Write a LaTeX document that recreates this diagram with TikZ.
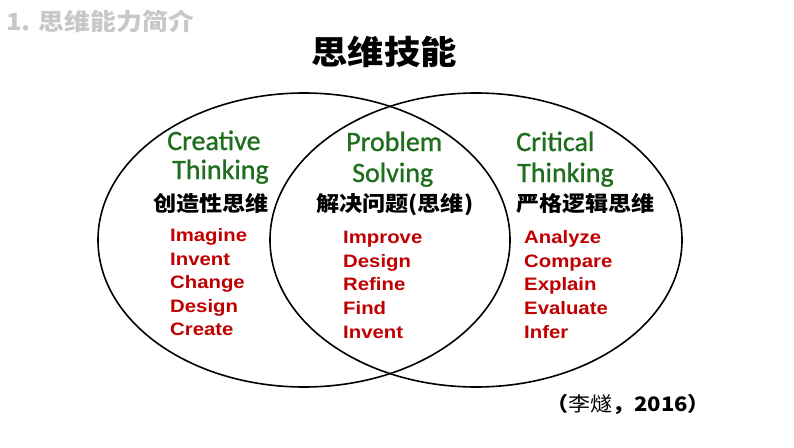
\documentclass[tikz,border=0pt]{standalone}
\usepackage{fontspec}
\setmainfont{Liberation Sans}
\newfontfamily\cjk[FakeStretch=1.1]{Noto Sans CJK SC}
\newfontfamily\greenf[FakeBold=0.9]{Carlito}
\newfontfamily\redf[FakeStretch=1.13]{Liberation Sans}
\usetikzlibrary{shapes.geometric}
\definecolor{titlegray}{RGB}{200,200,200}
\definecolor{setgreen}{RGB}{30,110,30}
\definecolor{wordred}{RGB}{192,0,0}
\tikzset{
  setring/.style={draw=black, line width=1.6pt, ellipse, minimum width=412pt, minimum height=294pt, inner sep=0pt},
  greenlabel/.style={anchor=base west, inner sep=0pt, text=setgreen, font=\greenf\fontsize{28}{28}\selectfont},
  cnlabel/.style={anchor=west, inner sep=0pt, text=black, font=\cjk\bfseries\fontsize{21}{21}\selectfont},
  redword/.style={anchor=base west, inner sep=0pt, text=wordred, font=\redf\bfseries\fontsize{18}{18}\selectfont},
}
\begin{document}
\begin{tikzpicture}[x=1pt, y=-1pt]
\fill[white] (0,0) rectangle (794,447);
\useasboundingbox (0,0) rectangle (794,447);

\node[anchor=west, inner sep=0pt, text=titlegray, font=\cjk\bfseries\fontsize{23.5}{23.5}\selectfont] (sectitle) at (6,21) {1. 思维能力简介};
\node[anchor=center, inner sep=0pt, font=\cjk\bfseries\fontsize{33}{33}\selectfont] (maintitle) at (384,52) {思维技能};

\node[setring] (leftset) at (304,240) {};
\node[setring] (rightset) at (476,240) {};

% left set
\node[greenlabel] (creative) at (167,150) {Creative};
\node[greenlabel] (thinkingA) at (172,179) {Thinking};
\node[cnlabel] (cnA) at (153,203) {创造性思维};
\node[redword] (imagine) at (170,241) {Imagine};
\node[redword] (inventA) at (170,265) {Invent};
\node[redword] (change) at (170,288) {Change};
\node[redword] (designA) at (170,312) {Design};
\node[redword] (create) at (170,335) {Create};

% middle
\node[greenlabel] (problem) at (346,151) {Problem};
\node[greenlabel] (solving) at (352,182) {Solving};
\node[cnlabel] (cnB) at (316,205) {解决问题(思维)};
\node[redword] (improve) at (343,243) {Improve};
\node[redword] (designB) at (343,267) {Design};
\node[redword] (refine) at (343,290) {Refine};
\node[redword] (find) at (343,314) {Find};
\node[redword] (inventB) at (343,338) {Invent};

% right set
\node[greenlabel] (critical) at (516,151) {Critical};
\node[greenlabel] (thinkingC) at (517,182) {Thinking};
\node[cnlabel] (cnC) at (516,204) {严格逻辑思维};
\node[redword] (analyze) at (524,243) {Analyze};
\node[redword] (compare) at (524,267) {Compare};
\node[redword] (explain) at (524,290) {Explain};
\node[redword] (evaluate) at (524,314) {Evaluate};
\node[redword] (infer) at (524,338) {Infer};

\node[anchor=center, inner sep=0pt, font=\cjk\fontsize{20}{20}\selectfont] (cite) at (628,404) {{\bfseries （}李燧{\bfseries ，2016）}};
\end{tikzpicture}
\end{document}
